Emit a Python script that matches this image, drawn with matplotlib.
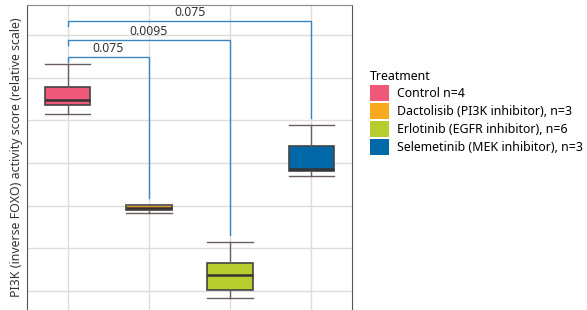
import matplotlib.pyplot as plt
from matplotlib.patches import Patch

plt.rcParams['font.family'] = ['Noto Sans', 'DejaVu Sans']

labels = ["Control n=4", "Dactolisib (PI3K inhibitor), n=3",
          "Erlotinib (EGFR inhibitor), n=6", "Selemetinib (MEK inhibitor), n=3"]
colors = ["#f0587a", "#f8a91c", "#b6cd2d", "#0068a6"]
whislo = [4.15, 1.83, -0.16, 2.69]
q1 = [4.36, 1.90, 0.02, 2.81]
med = [4.47, 1.94, 0.39, 2.87]
q3 = [4.78, 2.01, 0.67, 3.39]
whishi = [5.32, 2.01, 1.14, 3.90]

# brackets: (left group, right group, y of bar, text, bottom of right leg)
pairs = [(0, 1, 5.49, "0.075", 2.18), (0, 2, 5.88, "0.0095", 1.31), (0, 3, 6.32, "0.075", 4.06)]

fig = plt.figure(figsize=(5.87, 3.10), dpi=100)
ax = fig.add_axes([0.046, 0.0, 0.5537, 0.984])

stats = []
for i in range(4):
    stats.append(dict(med=med[i], q1=q1[i], q3=q3[i], whislo=whislo[i], whishi=whishi[i], fliers=[]))
bp = ax.bxp(stats, positions=range(4), widths=0.56, patch_artist=True, showfliers=False,
            boxprops=dict(edgecolor="#444444", linewidth=1.2),
            medianprops=dict(color="#333333", linewidth=1.8),
            whiskerprops=dict(color="#6b5e5e", linewidth=1),
            capprops=dict(color="#6b5e5e", linewidth=1), capwidths=0.56)
for patch, c in zip(bp['boxes'], colors):
    patch.set_facecolor(c)

for a, b, y, txt, bot in pairs:
    ax.plot([a, a, b, b], [y - 0.12, y, y, bot], color="#3a86c0", linewidth=1, solid_joinstyle='miter')
    ax.text((a + b) / 2, y + 0.04, txt, ha='center', va='bottom', fontsize=8.8, color="#333333")

ax.set_xlim(-0.5, 3.5)
ax.set_ylim(-0.44, 6.70)
ax.set_yticks(range(7))
ax.set_xticks(range(4))
ax.tick_params(length=0, labelleft=False, labelbottom=False)
ax.grid(True, color="#dcdcdc", linewidth=1)
ax.set_axisbelow(True)
ax.spines['bottom'].set_visible(False)
for s in ['left', 'right']:
    ax.spines[s].set_color("#555555")
ax.spines['top'].set_color("#888888")
ax.set_ylabel("PI3K (inverse FOXO) activity score (relative scale)", fontsize=8.9, color="#333333", labelpad=3)

handles = [Patch(facecolor=c, edgecolor='none') for c in colors]
leg = fig.legend(handles, labels, title="Treatment", loc='upper left', bbox_to_anchor=(0.630, 0.775),
                 frameon=False, fontsize=8.9, title_fontsize=8.9, handlelength=1.54, handleheight=1.62,
                 labelspacing=0.16, handletextpad=0.65, borderaxespad=0, borderpad=0)
leg._legend_box.align = "left"

fig.savefig("out.png", dpi=100)
